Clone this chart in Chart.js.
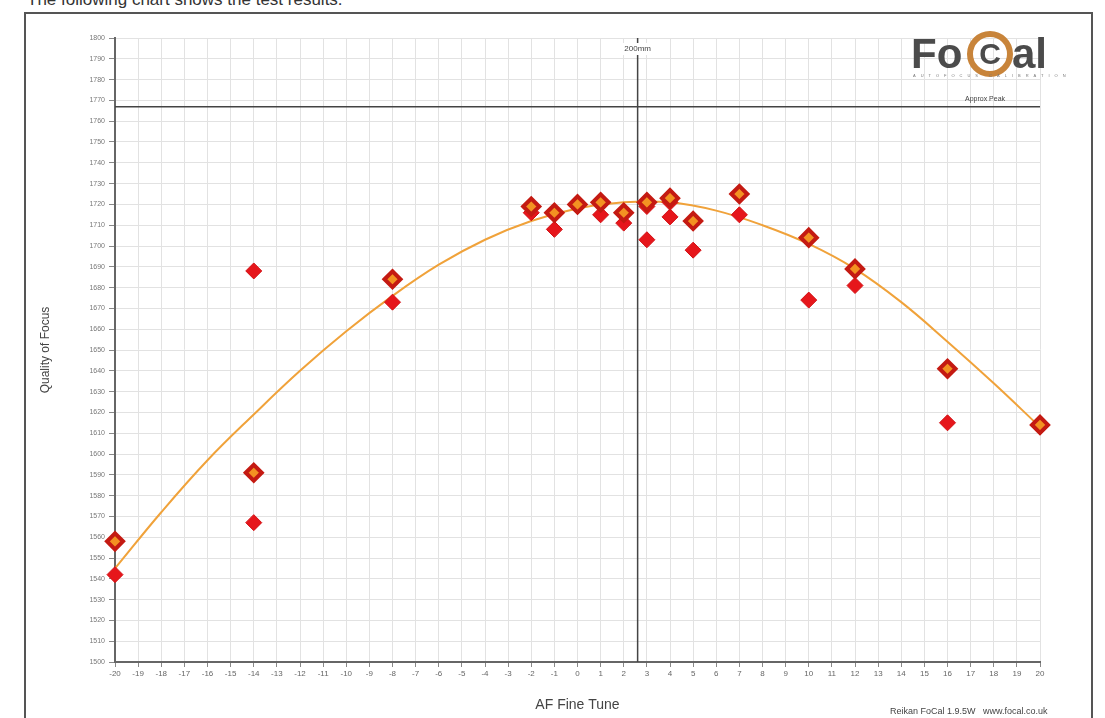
<!DOCTYPE html>
<html>
<head>
<meta charset="utf-8">
<script src="https://cdn.jsdelivr.net/npm/chart.js@4"></script>
<style>
  html,body{margin:0;padding:0;background:#fff;overflow:hidden}
  #page{position:relative;width:1105px;height:718px;overflow:hidden;font-family:"Liberation Sans",Arial,sans-serif}
  #intro{position:absolute;left:27px;top:-10px;font-size:17px;line-height:20px;color:#333;white-space:nowrap}
  #frame{position:absolute;left:24px;top:12px;width:1065px;height:720px;border:2px solid #555;border-bottom:none}
  canvas{position:absolute;left:0;top:0}
  .logo{position:absolute;color:#4b4b4b;font-weight:bold;font-size:42px;line-height:42px}
  #ring{position:absolute;left:967px;top:31px;width:46px;height:46px;box-sizing:border-box;border:6px solid #c8843a;border-radius:50%;
        color:#4b4b4b;font-weight:bold;font-size:30px;line-height:34px;text-align:center}
  #tag{position:absolute;left:913px;top:73px;font-size:4px;letter-spacing:5px;color:#777;white-space:nowrap}
  #foot{position:absolute;left:890px;top:706px;width:199px;overflow:hidden;font-size:9px;color:#444;white-space:nowrap}
</style>
</head>
<body>
<div id="page">
  <div id="intro">The following chart shows the test results.</div>
  <div id="frame"></div>
  <canvas id="chart" width="1105" height="718"></canvas>
  <div class="logo" style="left:911px;top:33px">Fo</div>
  <div id="ring">C</div>
  <div class="logo" style="left:1012px;top:33px">al</div>
  <div id="tag">AUTOFOCUS CALIBRATION</div>
  <div id="foot">Reikan FoCal 1.9.5W &nbsp;&nbsp;www.focal.co.uk</div>
</div>
<script>
// averaged result per AF fine tune step (orange-centred diamonds)
const AVG_X  = [-20, -14, -8, -2, -1, 0, 1, 2, 3, 4, 5, 7, 10, 12, 16, 20];
const AVG_Q  = [1558, 1591, 1684, 1719, 1716, 1720, 1721, 1716, 1721, 1723, 1712, 1725, 1704, 1689, 1641, 1614];
// individual shots (red diamonds)
const SHOT_X = [-20, -14, -14, -8, -2, -1, 0, 1, 2, 3, 3, 4, 4, 5, 7, 10, 12, 16, 20];
const SHOT_Q = [1542, 1688, 1567, 1673, 1716, 1708, 1719, 1715, 1711, 1703, 1719, 1714, 1721, 1698, 1715, 1674, 1681, 1615, 1613];
// fitted curve
const FIT_X  = [-20, -18, -16, -14, -12, -10, -8, -6, -4, -2, 0, 2, 4, 6, 8, 10, 12, 14, 16, 18, 20];
const FIT_Q  = [1545, 1572, 1597, 1619, 1640, 1659, 1676, 1691, 1703, 1712, 1718, 1721, 1721, 1717, 1710, 1701, 1689, 1673, 1654, 1634, 1613];

const LENS_LABEL = '200mm';
const PEAK_X     = 2.6;
const PEAK_LABEL = 'Approx Peak';
const PEAK_Q     = 1767;

const pts = (xs, ys) => xs.map((x, i) => ({x, y: ys[i]}));
const FONT = '"Liberation Sans", Arial, sans-serif';

const peakLines = {
  id: 'peakLines',
  beforeDatasetsDraw(chart) {
    const {ctx, chartArea: a, scales: {x, y}} = chart;
    const px = x.getPixelForValue(PEAK_X), py = y.getPixelForValue(PEAK_Q);
    ctx.save();
    ctx.strokeStyle = '#444'; ctx.lineWidth = 1.5;
    ctx.beginPath(); ctx.moveTo(px, a.top); ctx.lineTo(px, a.bottom); ctx.stroke();
    ctx.beginPath(); ctx.moveTo(a.left, py); ctx.lineTo(a.right, py); ctx.stroke();
    ctx.font = '8px ' + FONT;
    ctx.textAlign = 'center'; ctx.textBaseline = 'middle';
    const w = ctx.measureText(LENS_LABEL).width + 4;
    ctx.fillStyle = '#fff'; ctx.fillRect(px - w / 2, a.top + 5, w, 12);
    ctx.fillStyle = '#444'; ctx.fillText(LENS_LABEL, px, a.top + 11);
    ctx.font = '7px ' + FONT;
    ctx.fillText(PEAK_LABEL, a.right - 55, py - 8);
    ctx.restore();
  }
};

new Chart(document.getElementById('chart'), {
  type: 'scatter',
  data: {
    datasets: [
      {label: 'Average', data: pts(AVG_X, AVG_Q), order: 1, clip: false,
       pointStyle: 'rectRot', pointRadius: 8, backgroundColor: '#f39222', borderColor: '#c41a12', borderWidth: 4},
      {label: 'Shots', data: pts(SHOT_X, SHOT_Q), order: 2, clip: false,
       pointStyle: 'rectRot', pointRadius: 8, backgroundColor: '#e6161b', borderColor: '#d21014', borderWidth: 1},
      {type: 'line', label: 'Fit', data: pts(FIT_X, FIT_Q), order: 3,
       borderColor: '#f0a23a', borderWidth: 2, pointRadius: 0, tension: 0.4, fill: false}
    ]
  },
  options: {
    responsive: false, animation: false, devicePixelRatio: 1,
    layout: {padding: {left: 34, top: 38, right: 65, bottom: 0}},
    plugins: {legend: {display: false}, tooltip: {enabled: false}},
    scales: {
      x: {
        type: 'linear', min: -20, max: 20,
        ticks: {stepSize: 1, autoSkip: false, maxRotation: 0, color: '#666', padding: 2,
                font: {family: FONT, size: 8}},
        grid: {color: '#e2e2e2', tickLength: 5, tickColor: '#888'},
        border: {color: '#666', width: 2},
        title: {display: true, text: 'AF Fine Tune', color: '#444', font: {family: FONT, size: 14}},
        afterFit: s => { s.height = 56; }
      },
      y: {
        min: 1500, max: 1800,
        ticks: {stepSize: 10, autoSkip: false, color: '#777', padding: 4,
                font: {family: FONT, size: 7}, callback: v => String(v)},
        grid: {color: '#e2e2e2', tickLength: 6, tickColor: '#888'},
        border: {color: '#666', width: 2},
        title: {display: true, text: 'Quality of Focus', color: '#444', font: {family: FONT, size: 12}},
        afterFit: s => { s.width = 81; }
      }
    }
  },
  plugins: [peakLines]
});
</script>
</body>
</html>
